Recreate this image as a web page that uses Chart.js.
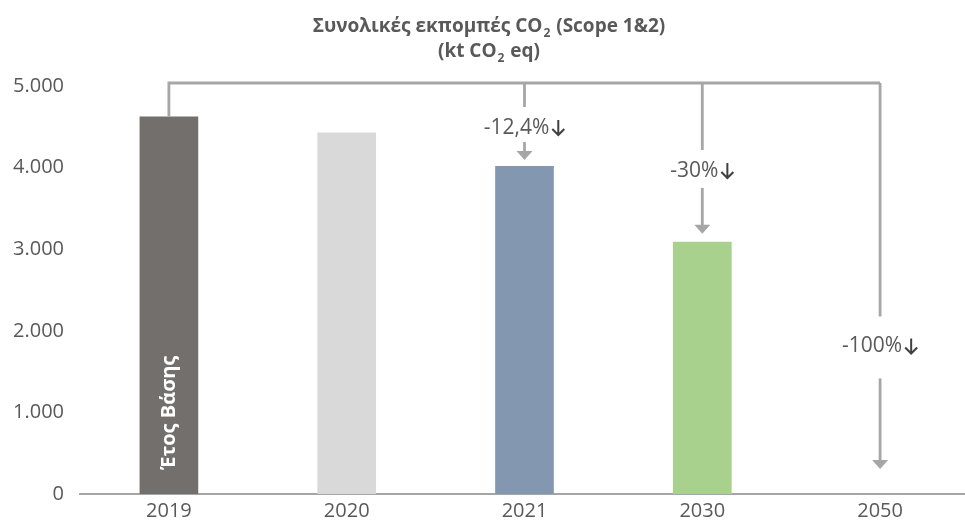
<!DOCTYPE html>
<html>
<head>
<meta charset="utf-8">
<script src="https://cdn.jsdelivr.net/npm/chart.js@4/dist/chart.umd.min.js"></script>
<style>
  html, body { margin: 0; padding: 0; background: #fff; overflow: hidden; }
  #wrap { width: 969px; height: 525px; }
</style>
</head>
<body>
<div id="wrap"><canvas id="chart"></canvas></div>
<script>
// values (kt CO2 eq)
var years = ['2019', '2020', '2021', '2030', '2050'];
var emissions = [4625, 4430, 4020, 3090, 0];
var barColors = ['#736f6d', '#d9d9d9', '#8497b0', '#a9d18e', '#ffffff'];
var yTicks = [0, 1000, 2000, 3000, 4000, 5000];

// reductions vs the base year
var cutYears = ['2021', '2030', '2050'];
var cutLabels = ['-12,4%', '-30%', '-100%'];

var GREY = '#a6a6a6';
var TEXT = '#595959';

function fmt(v) {
    return v.toLocaleString('de-DE');
}

// title with subscripts: segments [text, isSub]
var titleLines = [
    [['Συνολικές εκπομπές CO', false], ['2', true], [' (Scope 1&2)', false]],
    [['(kt CO', false], ['2', true], [' eq)', false]]
];

var titlePlugin = {
    id: 'subTitle',
    afterDraw: function (chart) {
        var ctx = chart.ctx, i, j, w, x, seg;
        var big = 'bold 19px "Open Sans"', small = 'bold 12px "Open Sans"';
        var baselines = [32, 57];
        ctx.save();
        ctx.fillStyle = TEXT;
        ctx.textBaseline = 'alphabetic';
        ctx.textAlign = 'left';
        for (i = 0; i < titleLines.length; i += 1) {
            w = 0;
            for (j = 0; j < titleLines[i].length; j += 1) {
                seg = titleLines[i][j];
                ctx.font = seg[1] ? small : big;
                w += ctx.measureText(seg[0]).width + (seg[1] ? 2 : 0);
            }
            x = 489 - w / 2;
            for (j = 0; j < titleLines[i].length; j += 1) {
                seg = titleLines[i][j];
                ctx.font = seg[1] ? small : big;
                ctx.fillText(seg[0], x + (seg[1] ? 1 : 0), baselines[i] + (seg[1] ? 5 : 0));
                x += ctx.measureText(seg[0]).width + (seg[1] ? 2 : 0);
            }
        }
        ctx.restore();
    }
};

function arrowDown(ctx, x, yFrom, yTip) {
    ctx.beginPath();
    ctx.moveTo(x, yFrom);
    ctx.lineTo(x, yTip - 8);
    ctx.stroke();
    ctx.beginPath();
    ctx.moveTo(x - 8, yTip - 9);
    ctx.lineTo(x + 8, yTip - 9);
    ctx.lineTo(x, yTip);
    ctx.closePath();
    ctx.fill();
}

var bracketPlugin = {
    id: 'bracket',
    afterDatasetsDraw: function (chart, args, opts) {
        var ctx = chart.ctx;
        var xs = chart.scales.x, ys = chart.scales.y;
        var x0 = xs.getPixelForValue(0);
        var top = ys.getPixelForValue(5000) - 3;
        var lastX = xs.getPixelForValue(years.indexOf(cutYears[cutYears.length - 1]));
        var i, idx, x, ly, tip, txtW, arrW, ax;

        ctx.save();
        ctx.strokeStyle = GREY;
        ctx.fillStyle = GREY;
        ctx.lineWidth = 2.8;
        ctx.lineCap = 'butt';

        // bracket from the base year bar
        ctx.beginPath();
        ctx.moveTo(x0, ys.getPixelForValue(emissions[0]));
        ctx.lineTo(x0, top);
        ctx.lineTo(lastX, top);
        ctx.stroke();

        for (i = 0; i < cutYears.length; i += 1) {
            idx = years.indexOf(cutYears[i]);
            x = xs.getPixelForValue(idx);
            ly = ys.getPixelForValue(opts.labelAt[i]);
            tip = ys.getPixelForValue(emissions[idx]) - opts.tipGap[i];

            ctx.strokeStyle = GREY;
            ctx.fillStyle = GREY;
            ctx.lineWidth = 2.8;
            ctx.beginPath();
            ctx.moveTo(x, top);
            ctx.lineTo(x, ly - opts.gapAbove[i]);
            ctx.stroke();
            arrowDown(ctx, x, ly + opts.gapBelow[i], tip);

            // label + dark arrow glyph
            ctx.font = '21px "Open Sans"';
            txtW = ctx.measureText(cutLabels[i]).width;
            arrW = 16;
            ctx.fillStyle = TEXT;
            ctx.textAlign = 'left';
            ctx.textBaseline = 'middle';
            ctx.fillText(cutLabels[i], x - (txtW + arrW) / 2, ly);

            ax = x - (txtW + arrW) / 2 + txtW + arrW / 2 + 1;
            ctx.strokeStyle = '#404040';
            ctx.lineWidth = 2;
            ctx.beginPath();
            ctx.moveTo(ax, ly - 8);
            ctx.lineTo(ax, ly + 7);
            ctx.moveTo(ax - 6, ly + 1);
            ctx.lineTo(ax, ly + 7);
            ctx.lineTo(ax + 6, ly + 1);
            ctx.stroke();
        }

        // base year note inside the first bar
        ctx.translate(x0, ys.getPixelForValue(emissions[0] * 0.215));
        ctx.rotate(-Math.PI / 2);
        ctx.font = 'bold 20px "Open Sans"';
        ctx.fillStyle = '#ffffff';
        ctx.textAlign = 'center';
        ctx.textBaseline = 'middle';
        ctx.fillText('Έτος Βάσης', 0, 0);
        ctx.restore();
    }
};

new Chart(document.getElementById('chart'), {
    type: 'bar',
    data: {
        labels: years,
        datasets: [{
            data: emissions,
            backgroundColor: barColors,
            categoryPercentage: 1,
            barPercentage: 0.33
        }]
    },
    options: {
        responsive: true,
        maintainAspectRatio: false,
        animation: false,
        layout: { padding: { top: 86, right: 0, bottom: 0, left: 0 } },
        plugins: {
            legend: { display: false },
            tooltip: { enabled: false },
            bracket: {
                labelAt: [4485, 3958, 1808],
                tipGap: [6, 8, 25],
                gapAbove: [21, 21, 30],
                gapBelow: [14, 17, 32]
            }
        },
        scales: {
            x: {
                grid: { display: false, drawTicks: false },
                border: { color: GREY, width: 2 },
                ticks: { color: TEXT, font: { family: 'Open Sans', size: 20 }, padding: 5 },
                afterFit: function (s) { s.height = 31; }
            },
            y: {
                min: 0,
                max: 5000,
                grid: { display: false, drawTicks: false },
                border: { display: false },
                afterBuildTicks: function (s) {
                    s.ticks = yTicks.map(function (v) { return { value: v }; });
                },
                ticks: {
                    color: TEXT,
                    font: { family: 'Open Sans', size: 20 },
                    padding: 16,
                    callback: function (v) { return fmt(v); }
                },
                afterFit: function (s) { s.width = 80; }
            }
        }
    },
    plugins: [titlePlugin, bracketPlugin]
});
</script>
</body>
</html>
